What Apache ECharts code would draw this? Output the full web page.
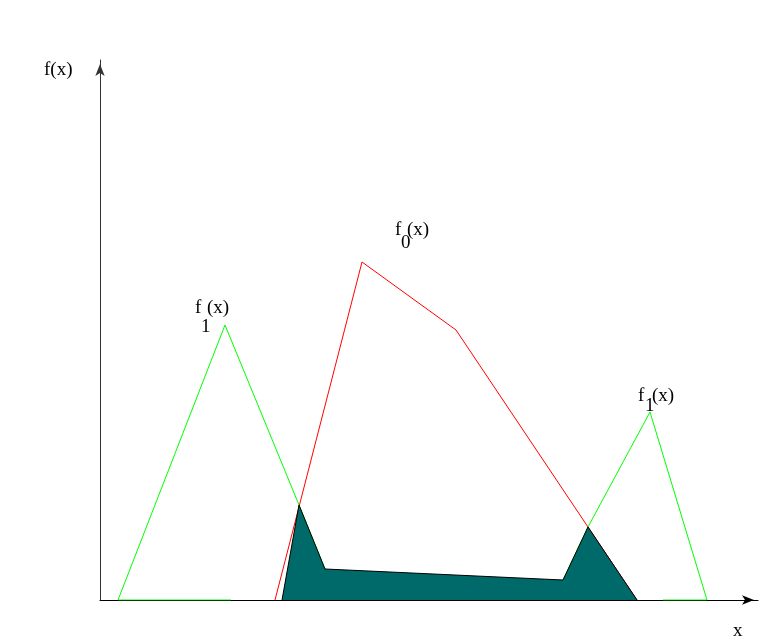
<!DOCTYPE html>
<html>
<head>
<meta charset="utf-8">
<script src="https://cdn.jsdelivr.net/npm/echarts@6/dist/echarts.min.js"></script>
<style>
  html, body { margin: 0; padding: 0; background: #fff; }
  #chart { width: 759px; height: 638px; }
</style>
</head>
<body>
<div id="chart"></div>
<script>
// points, [x, f(x)]
const f1Left = [[131, 0], [18, 0], [125, 275], [199, 95], [225, 31]];
const f1Right = [[563, 0], [607, 0], [550, 188], [488, 73], [463, 20]];
const f0 = [[175, 0], [262, 338], [356, 270], [488, 73], [537, 0]];
const overlap = [[182, 0], [199, 95], [225, 31], [463, 20], [488, 73], [537, 0]];

const xMax = 658;
const yMax = 540;

const serif = '19px "Liberation Serif", "DejaVu Serif", serif';

// label pieces: text, left, baseline
const labels = [
  ['f(x)', 44, 80],
  ['x', 733, 641],
  ['f', 195, 318], ['1', 201, 337], ['(x)', 207, 318],
  ['f', 395, 240], ['0', 401, 253], ['(x)', 407, 240],
  ['f', 638, 406], ['1', 645, 416], ['(x)', 652, 406]
];

const chart = echarts.init(document.getElementById('chart'));

const lineSeries = (data, color, z) => ({
  type: 'line',
  data: data,
  symbol: 'none',
  silent: true,
  animation: false,
  z: z,
  lineStyle: { color: color, width: 1 }
});

chart.setOption({
  animation: false,
  grid: { left: 100, right: 1, top: 60, bottom: 38 },
  xAxis: {
    type: 'value',
    min: 0,
    max: xMax,
    axisLine: {
      onZero: false,
      lineStyle: { color: '#000', width: 1 },
      symbol: ['none', 'arrow'],
      symbolSize: [7, 12],
      symbolOffset: [0, -4]
    },
    axisTick: { show: false },
    axisLabel: { show: false },
    splitLine: { show: false }
  },
  yAxis: {
    type: 'value',
    min: 0,
    max: yMax,
    axisLine: {
      show: true,
      onZero: false,
      lineStyle: { color: '#333', width: 1 },
      symbol: ['none', 'arrow'],
      symbolSize: [7, 12],
      symbolOffset: [0, -4]
    },
    axisTick: { show: false },
    axisLabel: { show: false },
    splitLine: { show: false }
  },
  series: [
    lineSeries(f1Left, '#00ff00', 2),
    lineSeries(f1Right, '#00ff00', 2),
    lineSeries(f0, '#ff0000', 2),
    Object.assign(lineSeries(overlap, '#000', 3), {
      areaStyle: { color: '#006a6a', opacity: 1 }
    })
  ],
  graphic: labels.map(([t, x, y]) => ({
    type: 'text',
    x: x,
    y: y,
    silent: true,
    style: { text: t, font: serif, fill: '#000', verticalAlign: 'bottom' }
  }))
});
</script>
</body>
</html>
